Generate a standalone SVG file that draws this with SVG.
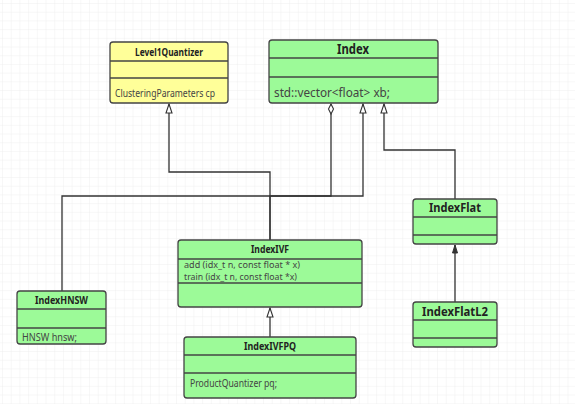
<svg xmlns="http://www.w3.org/2000/svg" width="575" height="414" viewBox="0 0 575 414">
<defs>
<pattern id="grid" width="8.7" height="8.7" patternUnits="userSpaceOnUse" x="3" y="4">
<path d="M8.7 0V8.7M0 8.7H8.7" fill="none" stroke="#ebebeb" stroke-width="0.8"/>
</pattern>
<marker id="tri" markerWidth="10" markerHeight="12" refX="5" refY="1" markerUnits="userSpaceOnUse" viewBox="0 0 10 12">
<path d="M2 10 L5 1 L8 10 Z" fill="#fff" stroke="#333" stroke-width="1.1"/>
</marker>
<marker id="dia" markerWidth="8" markerHeight="14" refX="4" refY="1" markerUnits="userSpaceOnUse" viewBox="0 0 8 14">
<path d="M4 1 L6.5 6 L4 11 L1.5 6 Z" fill="#fff" stroke="#333" stroke-width="1.1"/>
</marker>
<marker id="filled" markerWidth="10" markerHeight="12" refX="5" refY="1" markerUnits="userSpaceOnUse" viewBox="0 0 10 12">
<path d="M2.5 9 L5 1 L7.5 9 Z" fill="#333" stroke="#333" stroke-width="1"/>
</marker>
</defs>
<style>
.box{stroke:#444;stroke-width:1.3}
.g{fill:#9cfa98}
.y{fill:#ffff99}
.sep{stroke:#444;stroke-width:1.3}
.t{font-family:"Noto Sans","Open Sans",sans-serif;font-weight:bold;fill:#222}
.a{font-family:"Noto Sans","Open Sans",sans-serif;fill:#444}
.c{fill:none;stroke:#333;stroke-width:1.3}
</style>
<rect width="575" height="414" fill="#fff"/>
<rect width="575" height="404" fill="url(#grid)"/>

<g id="connectors">
<path class="c" d="M270 240 V172 H169 V104" marker-end="url(#tri)"/>
<path class="c" d="M270 240 V196 H363 V104" marker-end="url(#tri)"/>
<path class="c" d="M62 291 V196 H331 V104" marker-end="url(#dia)"/>
<path class="c" d="M455 199 V150 H384 V104" marker-end="url(#tri)"/>
<path class="c" d="M455 302 V245" marker-end="url(#filled)"/>
<path class="c" d="M270 337 V308" marker-end="url(#tri)"/>
</g>

<g id="Level1Quantizer">
<rect class="box y" x="110" y="42" width="118" height="61" rx="3"/>
<line class="sep" x1="110" y1="61" x2="228" y2="61"/>
<line class="sep" x1="110" y1="78" x2="228" y2="78"/>
<text class="t" x="135" y="56" font-size="10" textLength="68" lengthAdjust="spacingAndGlyphs">Level1Quantizer</text>
<text class="a" x="115" y="97" font-size="10" textLength="100" lengthAdjust="spacingAndGlyphs">ClusteringParameters cp</text>
</g>

<g id="Index">
<rect class="box g" x="269" y="40" width="169" height="63" rx="3"/>
<line class="sep" x1="269" y1="58" x2="438" y2="58"/>
<line class="sep" x1="269" y1="77" x2="438" y2="77"/>
<text class="t" x="337" y="54" font-size="14" textLength="32" lengthAdjust="spacingAndGlyphs">Index</text>
<text class="a" x="274" y="97" font-size="12.5" textLength="116" lengthAdjust="spacingAndGlyphs">std::vector&lt;float&gt; xb;</text>
</g>

<g id="IndexIVF">
<rect class="box g" x="178" y="240" width="184" height="67" rx="3"/>
<line class="sep" x1="178" y1="259" x2="362" y2="259"/>
<line class="sep" x1="178" y1="283" x2="362" y2="283"/>
<text class="t" x="251" y="253" font-size="10" textLength="38" lengthAdjust="spacingAndGlyphs">IndexIVF</text>
<text class="a" x="184" y="268" font-size="9.5" textLength="116" lengthAdjust="spacingAndGlyphs">add (idx_t n, const float * x)</text>
<text class="a" x="184" y="279.5" font-size="9.5" textLength="113" lengthAdjust="spacingAndGlyphs">train (idx_t n, const float *x)</text>
</g>

<g id="IndexHNSW">
<rect class="box g" x="17" y="291" width="89" height="53" rx="3"/>
<line class="sep" x1="17" y1="309" x2="106" y2="309"/>
<line class="sep" x1="17" y1="328" x2="106" y2="328"/>
<text class="t" x="35" y="304" font-size="10" textLength="53" lengthAdjust="spacingAndGlyphs">IndexHNSW</text>
<text class="a" x="22" y="341" font-size="10" textLength="55" lengthAdjust="spacingAndGlyphs">HNSW hnsw;</text>
</g>

<g id="IndexIVFPQ">
<rect class="box g" x="184" y="337" width="172" height="61" rx="3"/>
<line class="sep" x1="184" y1="355" x2="356" y2="355"/>
<line class="sep" x1="184" y1="373" x2="356" y2="373"/>
<text class="t" x="244" y="350" font-size="10" textLength="52" lengthAdjust="spacingAndGlyphs">IndexIVFPQ</text>
<text class="a" x="190" y="387" font-size="10" textLength="87" lengthAdjust="spacingAndGlyphs">ProductQuantizer pq;</text>
</g>

<g id="IndexFlat">
<rect class="box g" x="413" y="199" width="84" height="45" rx="3"/>
<line class="sep" x1="413" y1="217" x2="497" y2="217"/>
<line class="sep" x1="413" y1="235" x2="497" y2="235"/>
<text class="t" x="429" y="212" font-size="13" textLength="52" lengthAdjust="spacingAndGlyphs">IndexFlat</text>
</g>

<g id="IndexFlatL2">
<rect class="box g" x="413" y="302" width="84" height="45" rx="3"/>
<line class="sep" x1="413" y1="320" x2="497" y2="320"/>
<line class="sep" x1="413" y1="338" x2="497" y2="338"/>
<text class="t" x="422" y="316" font-size="13" textLength="66" lengthAdjust="spacingAndGlyphs">IndexFlatL2</text>
</g>
</svg>
